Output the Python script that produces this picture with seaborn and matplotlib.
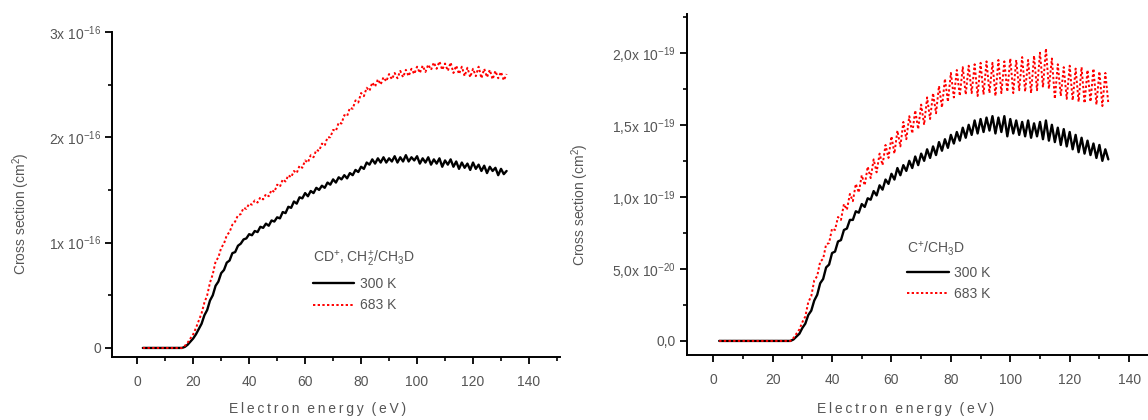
import matplotlib
matplotlib.use("Agg")
import matplotlib.pyplot as plt
import seaborn as sns
from matplotlib.ticker import MultipleLocator

sns.set_style("ticks")
plt.rcParams['font.family'] = ['Liberation Sans', 'DejaVu Sans']
plt.rcParams['mathtext.fontset'] = 'custom'
plt.rcParams['mathtext.rm'] = 'Liberation Sans'
plt.rcParams['mathtext.it'] = 'Liberation Sans'

# energy grids (eV)
energy_left = list(range(2, 133))
energy_right = list(range(2, 134))

# left panel: CD+, CH2+/CH3D, in units of 1e-16 cm2
left_300K = [0] * 15 + [
    0.01, 0.03, 0.06, 0.09, 0.13, 0.18, 0.23, 0.31, 0.36, 0.45, 0.50, 0.59, 0.63, 0.71, 0.74, 0.81,
    0.83, 0.90, 0.91, 0.97, 0.99, 1.03, 1.04, 1.08, 1.07, 1.11, 1.10, 1.15, 1.14, 1.18, 1.16, 1.21,
    1.20, 1.24, 1.23, 1.29, 1.28, 1.34, 1.33, 1.39, 1.37, 1.43, 1.42, 1.47, 1.44, 1.49, 1.47, 1.52,
    1.50, 1.54, 1.52, 1.57, 1.55, 1.60, 1.57, 1.62, 1.60, 1.64, 1.61, 1.66, 1.64, 1.69, 1.67, 1.72,
    1.70, 1.76, 1.74, 1.79, 1.75, 1.80, 1.76, 1.81, 1.76, 1.80, 1.77, 1.82, 1.76, 1.81, 1.77, 1.83,
    1.77, 1.81, 1.78, 1.82, 1.75, 1.80, 1.76, 1.81, 1.74, 1.79, 1.75, 1.80, 1.72, 1.78, 1.74, 1.79,
    1.72, 1.77, 1.70, 1.76, 1.71, 1.75, 1.69, 1.76, 1.70, 1.74, 1.68, 1.73, 1.66, 1.72, 1.68, 1.71,
    1.64, 1.70, 1.65, 1.68]
left_683K = [0] * 15 + [
    0.02, 0.05, 0.09, 0.13, 0.19, 0.26, 0.33, 0.43, 0.50, 0.62, 0.70, 0.82, 0.86, 0.95, 0.99, 1.07,
    1.10, 1.17, 1.20, 1.26, 1.27, 1.33, 1.32, 1.37, 1.36, 1.40, 1.38, 1.43, 1.41, 1.46, 1.44, 1.50,
    1.48, 1.55, 1.53, 1.60, 1.58, 1.64, 1.62, 1.68, 1.66, 1.73, 1.71, 1.78, 1.76, 1.83, 1.81, 1.88,
    1.87, 1.94, 1.92, 2.00, 2.00, 2.07, 2.06, 2.14, 2.13, 2.21, 2.20, 2.28, 2.27, 2.35, 2.33, 2.42,
    2.39, 2.47, 2.44, 2.52, 2.48, 2.55, 2.50, 2.57, 2.53, 2.60, 2.55, 2.61, 2.56, 2.63, 2.57, 2.64,
    2.58, 2.65, 2.60, 2.67, 2.61, 2.68, 2.62, 2.69, 2.64, 2.71, 2.65, 2.72, 2.64, 2.70, 2.63, 2.71,
    2.61, 2.68, 2.60, 2.67, 2.58, 2.66, 2.57, 2.65, 2.58, 2.67, 2.56, 2.65, 2.57, 2.64, 2.55, 2.63,
    2.56, 2.62, 2.54, 2.60]

# right panel: C+/CH3D, in units of 1e-19 cm2
right_300K = [0] * 25 + [
    0.01, 0.03, 0.05, 0.09, 0.12, 0.18, 0.21, 0.28, 0.32, 0.40, 0.43, 0.51, 0.53, 0.61, 0.62, 0.69,
    0.70, 0.77, 0.78, 0.84, 0.84, 0.90, 0.89, 0.95, 0.93, 0.99, 0.98, 1.04, 1.01, 1.08, 1.05, 1.12,
    1.09, 1.16, 1.12, 1.20, 1.15, 1.22, 1.18, 1.25, 1.20, 1.28, 1.22, 1.30, 1.25, 1.33, 1.27, 1.35,
    1.29, 1.38, 1.32, 1.40, 1.34, 1.43, 1.37, 1.45, 1.39, 1.48, 1.41, 1.50, 1.43, 1.53, 1.44, 1.54,
    1.45, 1.55, 1.46, 1.56, 1.44, 1.55, 1.45, 1.56, 1.42, 1.54, 1.44, 1.53, 1.43, 1.52, 1.42, 1.53,
    1.41, 1.51, 1.42, 1.52, 1.40, 1.53, 1.39, 1.50, 1.38, 1.48, 1.36, 1.47, 1.35, 1.45, 1.33, 1.43,
    1.31, 1.41, 1.30, 1.39, 1.29, 1.37, 1.27, 1.36, 1.25, 1.33, 1.26]
right_683K = [0] * 25 + [
    0.02, 0.05, 0.08, 0.13, 0.17, 0.27, 0.31, 0.42, 0.45, 0.55, 0.57, 0.67, 0.68, 0.78, 0.77, 0.86,
    0.84, 0.95, 0.91, 1.02, 0.97, 1.09, 1.03, 1.15, 1.08, 1.21, 1.13, 1.26, 1.17, 1.30, 1.22, 1.36,
    1.27, 1.42, 1.30, 1.46, 1.35, 1.52, 1.40, 1.56, 1.44, 1.60, 1.47, 1.64, 1.50, 1.69, 1.54, 1.72,
    1.58, 1.77, 1.62, 1.82, 1.66, 1.86, 1.69, 1.88, 1.70, 1.90, 1.71, 1.91, 1.72, 1.92, 1.70, 1.93,
    1.71, 1.94, 1.72, 1.93, 1.70, 1.95, 1.72, 1.94, 1.73, 1.96, 1.72, 1.95, 1.74, 1.97, 1.73, 1.95,
    1.72, 1.98, 1.74, 2.00, 1.76, 2.03, 1.75, 1.96, 1.68, 1.92, 1.70, 1.90, 1.68, 1.91, 1.67, 1.89,
    1.66, 1.90, 1.65, 1.88, 1.66, 1.89, 1.64, 1.87, 1.63, 1.86, 1.65]

x_ticks = [0, 20, 40, 60, 80, 100, 120, 140]
left_yticks = [0, 1, 2, 3]
left_ylabels = ['0', '1x 10$^{-16}$', '2x 10$^{-16}$', '3x 10$^{-16}$']
right_yticks = [0, 0.5, 1.0, 1.5, 2.0]
right_ylabels = ['0,0', '5,0x 10$^{-20}$', '1,0x 10$^{-19}$', '1,5x 10$^{-19}$', '2,0x 10$^{-19}$']
xlabel = '\u2009'.join('Electron') + '  ' + '\u2009'.join('energy') + '  ' + '\u2009'.join('(eV)')

grey = '#555555'

fig = plt.figure(figsize=(11.48, 4.2), dpi=100)
ax1 = fig.add_axes([0.0976, 0.150, 0.390, 0.774])
ax2 = fig.add_axes([0.598, 0.155, 0.414, 0.812])

panels = [
    (ax1, energy_left, left_300K, left_683K, left_yticks, left_ylabels, (-0.086, 3.0), 0.5,
     'CD$^{+}$, CH$_2^{+}$/CH$_3$D', (0.42, 0.37), (-0.179, -0.138)),
    (ax2, energy_right, right_300K, right_683K, right_yticks, right_ylabels, (-0.097, 2.27), 0.25,
     'C$^{+}$/CH$_3$D', (0.438, 0.375), (-0.200, -0.138)),
]

for ax, en, y300, y683, yt, yl, ylim, yminor, title, anchor, lab in panels:
    sns.lineplot(x=en, y=y300, ax=ax, color='black', lw=1.7, estimator=None, sort=False, label='300 K')
    sns.lineplot(x=en, y=y683, ax=ax, color='red', lw=1.4, linestyle=(0, (1.2, 1.2)),
                 estimator=None, sort=False, label='683 K')
    ax.set_xlim(-9, 151)
    ax.set_ylim(*ylim)
    ax.set_xticks(x_ticks)
    ax.xaxis.set_minor_locator(MultipleLocator(10))
    ax.set_yticks(yt)
    ax.set_yticklabels(yl)
    ax.yaxis.set_minor_locator(MultipleLocator(yminor))
    for s in ['top', 'right']:
        ax.spines[s].set_visible(False)
    for s in ['left', 'bottom']:
        ax.spines[s].set_linewidth(1.4)
        ax.spines[s].set_color('black')
    ax.tick_params(which='major', direction='out', length=5, width=1.3, colors='black',
                   labelcolor=grey, labelsize=10)
    ax.tick_params(which='minor', direction='out', length=3, width=1.2, colors='black')
    ax.tick_params(axis='x', pad=8)
    ax.tick_params(axis='y', pad=3)
    ax.set_xlabel(xlabel, color=grey, fontsize=10)
    ax.set_ylabel('Cross section (cm$^2$)', color=grey, fontsize=10)
    ax.xaxis.set_label_coords(0.46, lab[1])
    ax.yaxis.set_label_coords(lab[0], 0.44)
    leg = ax.legend(title=title, loc='upper left', bbox_to_anchor=anchor, frameon=False,
                    fontsize=10, title_fontsize=10, handlelength=3.0, handletextpad=0.4,
                    labelspacing=0.55, alignment='left')
    leg.get_title().set_color(grey)
    for t in leg.get_texts():
        t.set_color(grey)

fig.savefig('out.png', dpi=100)
